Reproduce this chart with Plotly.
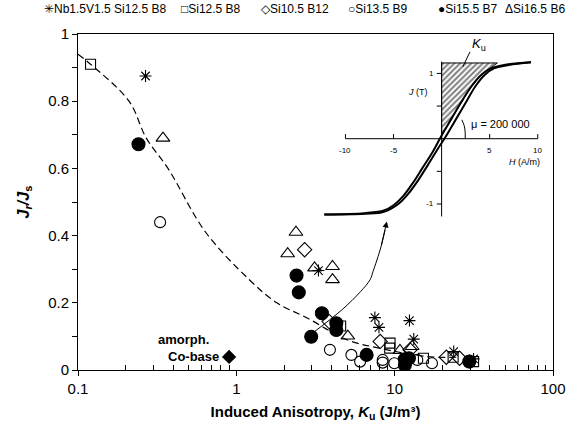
import math
import plotly.graph_objects as go

# ---- main data: remanence ratio vs induced anisotropy ----
nbv_name = "Nb1.5V1.5 Si12.5 B8"
nbv_ku = [0.267, 3.3, 7.5, 7.96, 12.4, 13.2, 23.6, 31.5]
nbv_jr = [0.875, 0.296, 0.156, 0.127, 0.147, 0.092, 0.055, 0.033]

si125_name = "Si12.5 B8"
si125_ku = [0.12, 4.56, 9.35, 9.3, 15.2, 23.4, 31.5]
si125_jr = [0.91, 0.131, 0.08, 0.065, 0.035, 0.038, 0.025]

si105_name = "Si10.5 B12"
si105_ku = [2.70, 3.86, 8.1, 12.5, 21.2, 25.7]
si105_jr = [0.358, 0.144, 0.085, 0.06, 0.038, 0.035]

si135_name = "Si13.5 B9"
si135_ku = [0.33, 3.9, 5.33, 6.05, 8.4, 8.4, 9.95, 13.9, 17.2]
si135_jr = [0.44, 0.06, 0.045, 0.025, 0.03, 0.022, 0.02, 0.03, 0.02]

si155_name = "Si15.5 B7"
si155_ku = [0.241, 2.40, 2.48, 3.47, 4.28, 4.28, 2.97, 6.65, 11.6, 11.6, 12.3, 29.6]
si155_jr = [0.672, 0.281, 0.231, 0.169, 0.139, 0.119, 0.099, 0.045, 0.032, 0.015, 0.035, 0.025]

si165_name = "Si16.5 B6"
si165_ku = [0.344, 2.38, 2.11, 3.12, 4.05, 4.05, 5.06, 10.8, 12.9]
si165_jr = [0.69, 0.41, 0.346, 0.304, 0.308, 0.269, 0.101, 0.058, 0.07]

cobase_ku = [0.9]
cobase_jr = [0.039]

# guide-to-the-eye trend
trend_ku = [0.1, 0.12, 0.21, 0.27, 0.37, 0.64, 1.2, 1.8, 2.8, 5.0, 8.0, 16.0, 25.0]
trend_jr = [0.94, 0.91, 0.80, 0.69, 0.60, 0.41, 0.27, 0.20, 0.155, 0.09, 0.065, 0.04, 0.038]

# pointer from the data cloud to the inset loop
pointer_ku = [3.03, 4.64, 6.08, 7.0, 7.3, 8.2, 8.93]
pointer_jr = [0.11, 0.179, 0.233, 0.269, 0.293, 0.367, 0.442]

# ---- inset: hysteresis loop J(H) ----
loop_up_h = [-12.2, -8, -6, -4.5, -3.5, -2.5, -1.5, -0.5, 0.5, 1.5, 2.5, 3.5, 4.5, 5.5, 7, 9.3]
loop_up_j = [-1.16, -1.15, -1.12, -1.0, -0.85, -0.65, -0.42, -0.18, 0.05, 0.3, 0.55, 0.8, 0.98, 1.08, 1.13, 1.17]
loop_dn_h = [-12.2, -8, -6, -5, -4, -3, -2, -1, 0, 1, 2, 3, 4, 5, 6.5, 9.3]
loop_dn_j = [-1.16, -1.14, -1.1, -1.02, -0.88, -0.68, -0.45, -0.22, 0.05, 0.3, 0.55, 0.78, 0.96, 1.07, 1.13, 1.17]
ku_area_top = 1.16
ku_area_right = 5.8

inset_xticks = [-10, -5, 5, 10]
inset_yticks = [-1, -0.5, 0.5, 1]

FONT = "Arial, Liberation Sans, sans-serif"

fig = go.Figure()

series = [
    (nbv_name, nbv_ku, nbv_jr, "asterisk-open", 10, "✳"),
    (si125_name, si125_ku, si125_jr, "square-open", 10, "□"),
    (si105_name, si105_ku, si105_jr, "diamond-open", 11, "◇"),
    (si135_name, si135_ku, si135_jr, "circle-open", 11, "○"),
    (si155_name, si155_ku, si155_jr, "circle", 13, "●"),
    (si165_name, si165_ku, si165_jr, "triangle-up-open", 12, "Δ"),
]

fig.add_trace(go.Scatter(
    x=trend_ku, y=trend_jr, mode="lines", line=dict(color="black", width=1.2, dash="7px,4px", shape="spline"),
    showlegend=False, hoverinfo="skip"))
fig.add_trace(go.Scatter(
    x=pointer_ku, y=pointer_jr, mode="lines", line=dict(color="black", width=1, shape="spline"),
    showlegend=False, hoverinfo="skip"))

for name, xs, ys, sym, size, _ in series:
    fig.add_trace(go.Scatter(
        x=xs, y=ys, mode="markers", name=name,
        marker=dict(symbol=sym, size=size, color="black", line=dict(color="black", width=1.1)),
        showlegend=False))

fig.add_trace(go.Scatter(
    x=cobase_ku, y=cobase_jr, mode="markers", name="amorph. Co-base",
    marker=dict(symbol="diamond", size=11, color="black"), showlegend=False))

# inset: hatched K_u area between the J axis and the loop
seg = [(h, j) for h, j in zip(loop_dn_h, loop_dn_j) if 0 <= h <= ku_area_right][::-1]
area_h = [0.0, 0.0, ku_area_right] + [h for h, _ in seg] + [0.0]
area_j = [0.0, ku_area_top, ku_area_top] + [j for _, j in seg] + [0.0]
fig.add_trace(go.Scatter(
    x=area_h, y=area_j, xaxis="x2", yaxis="y2", mode="lines", fill="toself",
    fillcolor="rgba(0,0,0,0)",
    fillpattern=dict(shape="/", fgcolor="black", bgcolor="white", size=4, solidity=0.5),
    line=dict(color="black", width=1), showlegend=False, hoverinfo="skip"))
fig.add_trace(go.Scatter(
    x=loop_up_h, y=loop_up_j, xaxis="x2", yaxis="y2", mode="lines",
    line=dict(color="black", width=2, shape="spline"), showlegend=False, hoverinfo="skip"))
fig.add_trace(go.Scatter(
    x=loop_dn_h, y=loop_dn_j, xaxis="x2", yaxis="y2", mode="lines",
    line=dict(color="black", width=2, shape="spline"), showlegend=False, hoverinfo="skip"))
# slope-angle arc and K_u leader
fig.add_trace(go.Scatter(
    x=[2.1, 2.35, 2.45, 2.45], y=[0.29, 0.2, 0.1, 0.0], xaxis="x2", yaxis="y2", mode="lines",
    line=dict(color="black", width=1, shape="spline"), showlegend=False, hoverinfo="skip"))
fig.add_trace(go.Scatter(
    x=[2.95, 2.2], y=[1.33, 1.1], xaxis="x2", yaxis="y2", mode="lines",
    line=dict(color="black", width=1), showlegend=False, hoverinfo="skip"))

shapes = []
# inset axes
shapes.append(dict(type="line", xref="x2", yref="y2", x0=-10, x1=10, y0=0, y1=0, line=dict(color="black", width=1)))
shapes.append(dict(type="line", xref="x2", yref="y2", x0=0, x1=0, y0=-1.19, y1=1.18, line=dict(color="black", width=1)))
for t in inset_xticks:
    shapes.append(dict(type="line", xref="x2", yref="y2", x0=t, x1=t, y0=0, y1=0.07, line=dict(color="black", width=1)))
for t in inset_yticks:
    shapes.append(dict(type="line", xref="x2", yref="y2", x0=-0.5, x1=0, y0=t, y1=t, line=dict(color="black", width=1)))

annotations = []
for t in inset_xticks:
    annotations.append(dict(x=t, y=-0.18, xref="x2", yref="y2", text=str(t), showarrow=False,
                            font=dict(family=FONT, size=8, color="black")))
for t in [1, -1]:
    annotations.append(dict(x=-0.6, y=t, xref="x2", yref="y2", text=str(t), showarrow=False, xanchor="right",
                            font=dict(family=FONT, size=8, color="black")))
annotations += [
    dict(x=-2.5, y=0.72, xref="x2", yref="y2", text="<i>J</i> (T)", showarrow=False,
         font=dict(family=FONT, size=9, color="black")),
    dict(x=8.6, y=-0.36, xref="x2", yref="y2", text="<i>H</i> (A/m)", showarrow=False,
         font=dict(family=FONT, size=9, color="black")),
    dict(x=2.8, y=0.23, xref="x2", yref="y2", text="μ = 200 000", showarrow=False, xanchor="left",
         font=dict(family=FONT, size=11, color="black")),
    dict(x=3.9, y=1.45, xref="x2", yref="y2", text="<i>K</i><sub>u</sub>", showarrow=False,
         font=dict(family=FONT, size=13, color="black")),
]

# arrow head at the end of the pointer
annotations.append(dict(
    x=math.log10(pointer_ku[-1]), y=pointer_jr[-1], ax=math.log10(pointer_ku[-2]), ay=pointer_jr[-2],
    xref="x", yref="y", axref="x", ayref="y", text="", showarrow=True,
    arrowhead=2, arrowsize=1.2, arrowwidth=1, arrowcolor="black"))

# amorphous Co-base label
annotations += [
    dict(x=math.log10(cobase_ku[0]), y=cobase_jr[0], xref="x", yref="y", text="<b>Co-base</b>", showarrow=False,
         xanchor="right", xshift=-8, font=dict(family=FONT, size=13, color="black")),
    dict(x=math.log10(cobase_ku[0]), y=cobase_jr[0] + 0.052, xref="x", yref="y", text="<b>amorph.</b>",
         showarrow=False, xanchor="right", xshift=-18, font=dict(family=FONT, size=13, color="black")),
]

# series key along the top
key_x = [-0.0761, 0.212, 0.3807, 0.5638, 0.753, 0.895]
for (name, _, _, _, _, glyph), kx in zip(series, key_x):
    annotations.append(dict(x=kx, y=1.074, xref="paper", yref="paper", xanchor="left", yanchor="middle",
                            text=glyph + name, showarrow=False,
                            font=dict(family=FONT, size=12, color="black")))

minor_x = [m * 10 ** e for e in (-1, 0, 1) for m in range(2, 10)]

fig.update_layout(
    width=578, height=436,
    margin=dict(l=78, r=14, t=34, b=66),
    paper_bgcolor="white", plot_bgcolor="white",
    font=dict(family=FONT, size=15, color="black"),
    showlegend=False,
    shapes=shapes, annotations=annotations,
    xaxis=dict(
        type="log", range=[-1, 2], tickvals=[0.1, 1, 10, 100], ticktext=["0.1", "1", "10", "100"],
        ticks="outside", ticklen=5, tickcolor="black", showgrid=False, zeroline=False,
        showline=True, linecolor="black", linewidth=1, mirror=True,
        minor=dict(tickvals=minor_x, ticks="inside", ticklen=5, tickcolor="black", showgrid=False),
        tickfont=dict(size=15),
        title=dict(text="<b>Induced Anisotropy, <i>K</i><sub>u</sub> (J/m³)</b>", standoff=10,
                   font=dict(size=15)),
    ),
    yaxis=dict(
        range=[0, 1], tickvals=[0, 0.2, 0.4, 0.6, 0.8, 1], ticktext=["0", "0.2", "0.4", "0.6", "0.8", "1"],
        ticks="outside", ticklen=5, tickcolor="black", showgrid=False, zeroline=False,
        showline=True, linecolor="black", linewidth=1, mirror=True,
        minor=dict(dtick=0.1, ticks="outside", ticklen=5, tickcolor="black", showgrid=False),
        tickfont=dict(size=15),
        title=dict(text="<b><i>J</i><sub><i>r</i></sub><i>/J</i><sub>s</sub></b>", standoff=14,
                   font=dict(size=16)),
    ),
    xaxis2=dict(domain=[0.508, 0.992], range=[-12.72, 11.19], visible=False, anchor="y2"),
    yaxis2=dict(domain=[0.4167, 0.982], range=[-1.398, 1.511], visible=False, anchor="x2"),
)

fig.write_html("out.html")
